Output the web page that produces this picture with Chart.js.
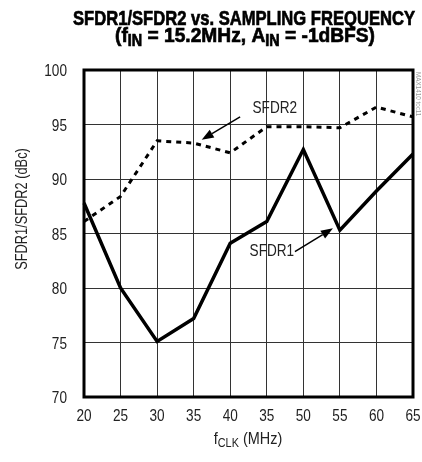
<!DOCTYPE html>
<html>
<head>
<meta charset="utf-8">
<script src="https://cdn.jsdelivr.net/npm/chart.js@4"></script>
<style>
  body { margin: 0; background: #fff; }
  #wrap { width: 422px; height: 462px; position: relative; }
</style>
</head>
<body>
<div id="wrap"><canvas id="miGrafico"></canvas></div>
<script>
// datos
var etiquetas = ['20', '25', '30', '35', '40', '35', '50', '55', '60', '65'];
var sfdr1 = [87.8, 80.0, 75.1, 77.2, 84.1, 86.1, 92.7, 85.3, 88.9, 92.3];
var sfdr2 = [86.1, 88.4, 93.5, 93.3, 92.4, 94.8, 94.8, 94.7, 96.6, 95.7];
var yTicks = [70, 75, 80, 85, 90, 95, 100];

var FONT = '"Liberation Sans", Arial, sans-serif';
var ANGOSTO = 0.8; // letra condensada

// flechas de las etiquetas (indice, valor)
var notas = [
    { texto: 'SFDR2', lx: 5.22, ly: 96.65, desde: [4.27, 95.7], hasta: [3.22, 93.6] },
    { texto: 'SFDR1', lx: 5.14, ly: 83.5, desde: [5.77, 83.33], hasta: [6.81, 85.48] }
];

function flecha(ctx, x1, y1, x2, y2) {
    var a = Math.atan2(y2 - y1, x2 - x1);
    var L = 12, W = 4.5;
    ctx.beginPath();
    ctx.moveTo(x1, y1);
    ctx.lineTo(x2 - L * Math.cos(a), y2 - L * Math.sin(a));
    ctx.lineWidth = 1.5;
    ctx.stroke();
    ctx.beginPath();
    ctx.moveTo(x2, y2);
    ctx.lineTo(x2 - L * Math.cos(a) + W * Math.sin(a), y2 - L * Math.sin(a) - W * Math.cos(a));
    ctx.lineTo(x2 - L * Math.cos(a) - W * Math.sin(a), y2 - L * Math.sin(a) + W * Math.cos(a));
    ctx.closePath();
    ctx.fill();
}

function medir(ctx, partes, size, bold) {
    var total = 0;
    partes.forEach(function (p) {
        ctx.font = (bold ? 'bold ' : '') + (p.sub ? size * 0.75 : size) + 'px ' + FONT;
        p.w = ctx.measureText(p.t).width;
        total += p.w;
    });
    return total;
}

// texto en partes (con subindices), estirado en x por sx
function texto(ctx, partes, x, y, size, bold, align, sx, grueso) {
    var total = medir(ctx, partes, size, bold);
    var x0 = 0;
    if (align === 'center') x0 = -total / 2;
    if (align === 'right') x0 = -total;
    ctx.save();
    ctx.translate(x, y);
    ctx.scale(sx, 1);
    ctx.textAlign = 'left';
    ctx.strokeStyle = ctx.fillStyle;
    ctx.lineWidth = grueso || 0;
    partes.forEach(function (p) {
        ctx.font = (bold ? 'bold ' : '') + (p.sub ? size * 0.75 : size) + 'px ' + FONT;
        var yy = p.sub ? size * 0.2 : 0;
        ctx.fillText(p.t, x0, yy);
        if (grueso) ctx.strokeText(p.t, x0, yy);
        x0 += p.w;
    });
    ctx.restore();
}

var extras = {
    id: 'extras',
    afterDraw: function (chart) {
        var ctx = chart.ctx;
        var area = chart.chartArea;
        var xs = chart.scales.x, ys = chart.scales.y;
        var paso = xs.getPixelForValue(1) - xs.getPixelForValue(0);
        function px(i) { return xs.getPixelForValue(0) + i * paso; }
        function py(v) { return ys.getPixelForValue(v); }

        ctx.save();
        ctx.fillStyle = '#000';
        ctx.strokeStyle = '#000';

        // marco
        ctx.lineWidth = 3;
        ctx.strokeRect(area.left, area.top, area.right - area.left, area.bottom - area.top);

        ctx.textBaseline = 'alphabetic';

        // titulo
        var t1 = [{ t: 'SFDR1/SFDR2 vs. SAMPLING FREQUENCY' }];
        var t2 = [{ t: '(f' }, { t: 'IN', sub: true }, { t: ' = 15.2MHz, A' }, { t: 'IN', sub: true }, { t: ' = -1dBFS)' }];
        texto(ctx, t1, 244, 25, 21, true, 'center', 342 / medir(ctx, t1, 21, true), 0.7);
        texto(ctx, t2, 245, 42, 21, true, 'center', 260 / medir(ctx, t2, 21, true), 0.7);

        // etiquetas de los ejes
        ctx.fillStyle = '#222';
        etiquetas.forEach(function (t, i) {
            texto(ctx, [{ t: t }], px(i), 421, 17, false, 'center', ANGOSTO);
        });
        yTicks.forEach(function (v) {
            texto(ctx, [{ t: String(v) }], 67, py(v) + 6, 17, false, 'right', ANGOSTO);
        });

        // titulos de ejes
        texto(ctx, [{ t: 'f' }, { t: 'CLK', sub: true }, { t: ' (MHz)' }], 248, 444, 17, false, 'center', 0.85);
        ctx.save();
        ctx.translate(27, 209);
        ctx.rotate(-Math.PI / 2);
        texto(ctx, [{ t: 'SFDR1/SFDR2 (dBc)' }], 0, 0, 16, false, 'center', ANGOSTO);
        ctx.restore();

        // marca lateral
        ctx.save();
        ctx.translate(416, area.top + 2);
        ctx.rotate(Math.PI / 2);
        ctx.fillStyle = '#999';
        texto(ctx, [{ t: 'MAX1410 toc11' }], 0, 0, 7, false, 'left', 0.9);
        ctx.restore();

        // notas con flecha
        notas.forEach(function (n) {
            ctx.fillStyle = '#222';
            texto(ctx, [{ t: n.texto }], px(n.lx), py(n.ly) + 6, 17, false, 'center', ANGOSTO);
            ctx.fillStyle = '#000';
            ctx.strokeStyle = '#000';
            flecha(ctx, px(n.desde[0]), py(n.desde[1]), px(n.hasta[0]), py(n.hasta[1]));
        });
        ctx.restore();
    }
};

var ctx = document.getElementById('miGrafico').getContext('2d');

var data = {
    labels: etiquetas,
    datasets: [{
        label: 'SFDR2',
        data: sfdr2,
        borderColor: '#000',
        borderWidth: 3,
        borderDash: [5, 5],
        pointRadius: 0,
        fill: false
    }, {
        label: 'SFDR1',
        data: sfdr1,
        borderColor: '#000',
        borderWidth: 3.5,
        pointRadius: 0,
        fill: false
    }]
};

var options = {
    responsive: true,
    maintainAspectRatio: false,
    animation: false,
    layout: { padding: { top: 70, right: 9, left: 0, bottom: 0 } },
    plugins: {
        legend: { display: false },
        tooltip: { enabled: false }
    },
    scales: {
        x: {
            type: 'category',
            offset: false,
            grid: { color: '#333', lineWidth: 1, drawTicks: false },
            border: { display: false },
            ticks: { display: false, autoSkip: false },
            afterFit: function (axis) { axis.height = 65; }
        },
        y: {
            min: 70,
            max: 100,
            afterBuildTicks: function (axis) { axis.ticks = yTicks.map(function (v) { return { value: v }; }); },
            grid: { color: '#333', lineWidth: 1, drawTicks: false },
            border: { display: false },
            ticks: { display: false },
            afterFit: function (axis) { axis.width = 84; }
        }
    }
};

var miGrafico = new Chart(ctx, {
    type: 'line',
    data: data,
    options: options,
    plugins: [extras]
});
</script>
</body>
</html>
